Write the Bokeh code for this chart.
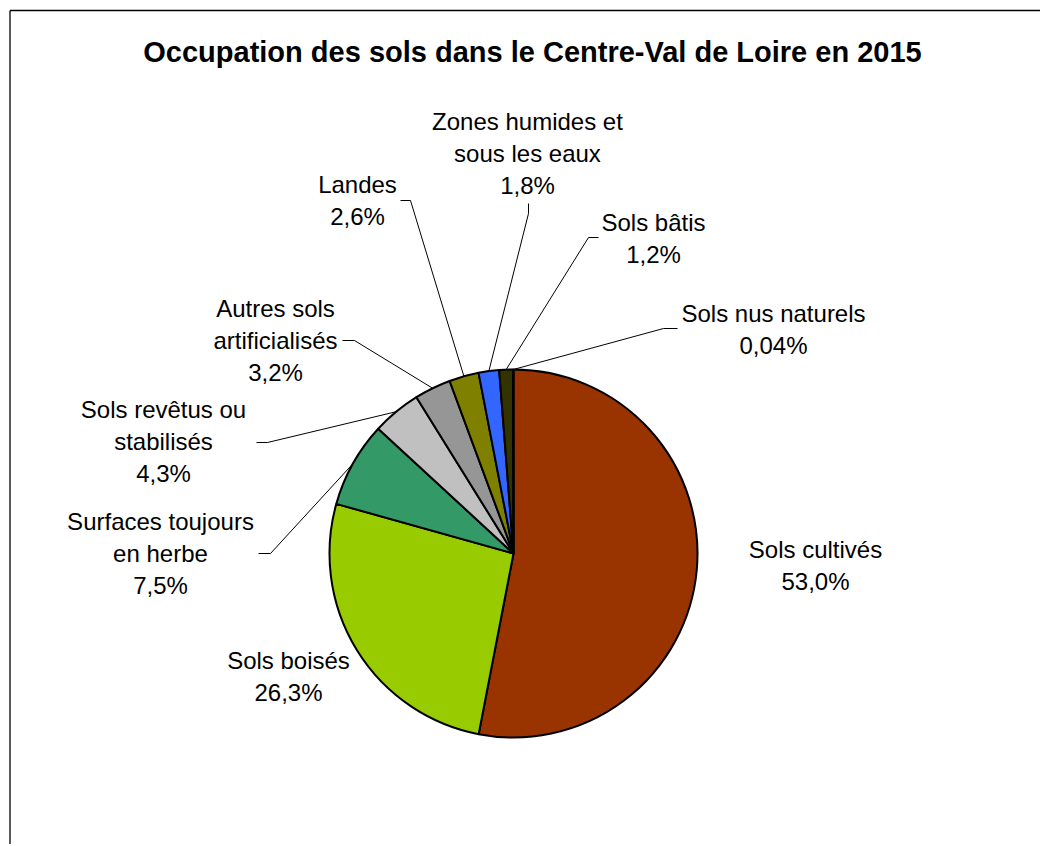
import math
from bokeh.plotting import figure
from bokeh.models import ColumnDataSource, Range1d
from bokeh.core.properties import value
from bokeh.embed import file_html
from bokeh.resources import INLINE

# ---------------- data ----------------
categories = ["Sols cultivés", "Sols boisés", "Surfaces toujours en herbe",
              "Sols revêtus ou stabilisés", "Autres sols artificialisés", "Landes",
              "Zones humides et sous les eaux", "Sols bâtis", "Sols nus naturels"]
shares = [53.0, 26.3, 7.5, 4.3, 3.2, 2.6, 1.8, 1.2, 0.04]
pct_labels = ["53,0%", "26,3%", "7,5%", "4,3%", "3,2%", "2,6%", "1,8%", "1,2%", "0,04%"]
title_text = "Occupation des sols dans le Centre-Val de Loire en 2015"

# ---------------- styles / layout ----------------
colors = ["#993300", "#99CC00", "#339966", "#C0C0C0", "#969696",
          "#808000", "#3366FF", "#333300", "#1A1A1A"]
label_lines = ["Sols cultivés", "Sols boisés", "Surfaces toujours\nen herbe",
               "Sols revêtus ou\nstabilisés", "Autres sols\nartificialisés", "Landes",
               "Zones humides et\nsous les eaux", "Sols bâtis", "Sols nus naturels"]

W, H = 1040, 844
def px(x):   # screen x -> plot x
    return x
def py(y):   # screen y -> plot y
    return H - y

CX, CY, R = px(513), py(553), 184

# label block centres (screen coordinates)
label_pos = [(815, 565), (288, 676), (160, 553), (163, 441), (275, 340),
             (357, 200), (527, 153), (653, 238), (773, 329)]
# leader ticks near the labels (screen coords): (start, elbow); None = no leader
leader_ticks = [None, None,
                ((258, 553), (270, 553)),
                ((256, 442), (267, 442)),
                ((342, 340), (354, 340)),
                ((400, 200), (410, 200)),
                ((528, 203), (528, 213)),
                ((598, 237), (588, 237)),
                ((677, 328), (663, 328))]

p = figure(width=W, height=H, output_backend="svg", toolbar_location=None,
           x_range=Range1d(0, W), y_range=Range1d(0, H), min_border=0,
           background_fill_color="white", border_fill_color="white")
p.axis.visible = False
p.grid.visible = False
p.outline_line_color = None

# frame (cropped chart border)
p.line([px(9.5), px(9.5)], [py(H + 5), py(10)], line_color="black", line_width=1.3)
p.line([px(9.5), px(W + 5)], [py(10), py(10)], line_color="black", line_width=1.3)

# ---------------- pie ----------------
total = sum(shares)
starts, ends, mids = [], [], []
cum = 0.0
for s in shares:
    a0 = math.pi / 2 - 2 * math.pi * cum / total
    cum += s
    a1 = math.pi / 2 - 2 * math.pi * cum / total
    starts.append(a0)
    ends.append(a1)
    mids.append((a0 + a1) / 2)

src = ColumnDataSource(dict(start=starts, end=ends, color=colors, cat=categories,
                            x=[CX] * len(shares), y=[CY] * len(shares)))
p.wedge(x="x", y="y", radius=R, start_angle="start", end_angle="end",
        direction="clock", fill_color="color", line_color="black", line_width=2,
        source=src)

# leader lines
for i, tick in enumerate(leader_ticks):
    if tick is None:
        continue
    (x0, y0), (x1, y1) = tick
    ex = CX + R * math.cos(mids[i])
    ey = CY + R * math.sin(mids[i])
    p.line([px(x0), px(x1), ex], [py(y0), py(y1), ey], line_color="black", line_width=1)

# labels
texts = [f"{l}\n{pc}" for l, pc in zip(label_lines, pct_labels)]
p.text(x=[px(x) for x, _ in label_pos], y=[py(y) for _, y in label_pos], text=texts,
       text_font=value("Liberation Sans"), text_font_size="24px", text_color="black",
       text_align="center", text_baseline="middle", text_line_height=1.17)

# title
p.text(x=[px(532)], y=[py(51)], text=[title_text], text_font=value("Liberation Sans"),
       text_font_size="29px", text_font_style="bold", text_color="black",
       text_align="center", text_baseline="middle")

open("out.html", "w").write(file_html(p, INLINE))
